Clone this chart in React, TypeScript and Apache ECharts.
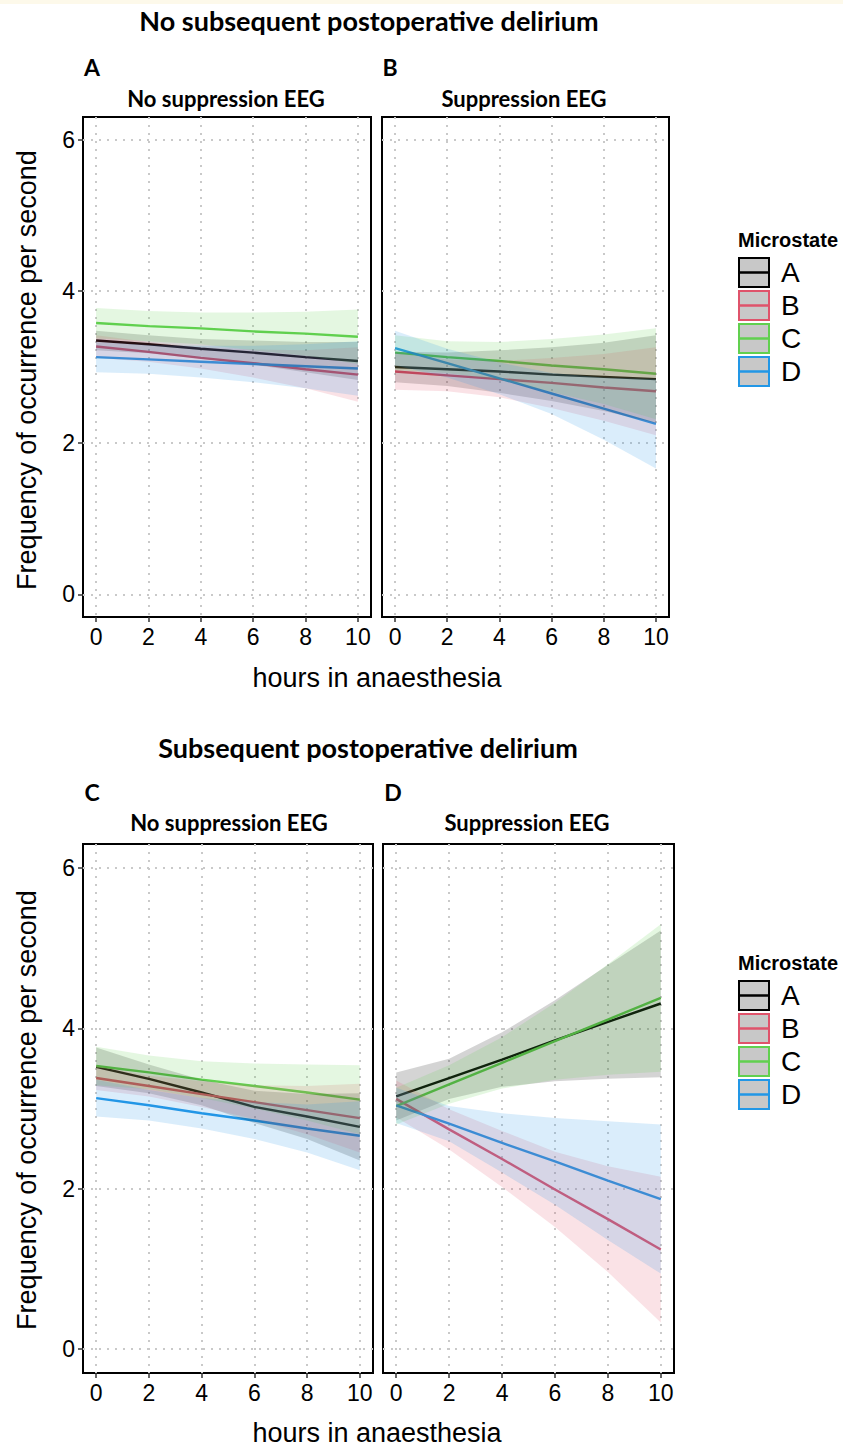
import React, { useEffect, useRef } from "react";
import * as echarts from "echarts";

// ---------- data ----------
const hours = [0, 2, 4, 6, 8, 10];
const xTicks = [0, 2, 4, 6, 8, 10];
const yTicks = [0, 2, 4, 6];
const microstates = ["A", "B", "C", "D"];
const microColors = ["#000000", "#DF536B", "#61D04F", "#2297E6"];

// Panel A: no subsequent delirium, no suppression EEG
const pA_fit_A = [3.35, 3.3, 3.24, 3.19, 3.13, 3.08];
const pA_lo_A = [3.22, 3.18, 3.11, 3.03, 2.93, 2.83];
const pA_hi_A = [3.48, 3.42, 3.37, 3.35, 3.33, 3.33];
const pA_fit_B = [3.27, 3.2, 3.12, 3.05, 2.97, 2.9];
const pA_lo_B = [3.12, 3.07, 2.98, 2.86, 2.72, 2.54];
const pA_hi_B = [3.42, 3.33, 3.26, 3.23, 3.22, 3.26];
const pA_fit_C = [3.58, 3.54, 3.51, 3.47, 3.44, 3.4];
const pA_lo_C = [3.38, 3.34, 3.3, 3.22, 3.15, 3.04];
const pA_hi_C = [3.78, 3.74, 3.72, 3.72, 3.73, 3.76];
const pA_fit_D = [3.13, 3.1, 3.07, 3.04, 3.01, 2.98];
const pA_lo_D = [2.93, 2.91, 2.86, 2.8, 2.72, 2.62];
const pA_hi_D = [3.33, 3.29, 3.28, 3.28, 3.3, 3.34];

// Panel B: no subsequent delirium, suppression EEG
const pB_fit_A = [3.0, 2.97, 2.94, 2.9, 2.87, 2.84];
const pB_lo_A = [2.8, 2.75, 2.66, 2.55, 2.42, 2.26];
const pB_hi_A = [3.2, 3.19, 3.22, 3.26, 3.32, 3.42];
const pB_fit_B = [2.94, 2.89, 2.84, 2.79, 2.73, 2.68];
const pB_lo_B = [2.7, 2.68, 2.6, 2.46, 2.29, 2.1];
const pB_hi_B = [3.18, 3.1, 3.08, 3.12, 3.17, 3.26];
const pB_fit_C = [3.19, 3.13, 3.08, 3.02, 2.97, 2.91];
const pB_lo_C = [2.96, 2.92, 2.83, 2.67, 2.51, 2.31];
const pB_hi_C = [3.42, 3.34, 3.33, 3.37, 3.43, 3.51];
const pB_fit_D = [3.25, 3.05, 2.85, 2.65, 2.45, 2.25];
const pB_lo_D = [3.02, 2.86, 2.64, 2.38, 2.04, 1.66];
const pB_hi_D = [3.48, 3.24, 3.06, 2.92, 2.86, 2.84];

// Panel C: subsequent delirium, no suppression EEG
const pC_fit_A = [3.52, 3.37, 3.2, 3.02, 2.9, 2.77];
const pC_lo_A = [3.28, 3.19, 3.04, 2.82, 2.62, 2.35];
const pC_hi_A = [3.76, 3.55, 3.36, 3.22, 3.18, 3.19];
const pC_fit_B = [3.38, 3.28, 3.18, 3.08, 2.98, 2.88];
const pC_lo_B = [3.23, 3.15, 3.02, 2.87, 2.68, 2.45];
const pC_hi_B = [3.53, 3.41, 3.34, 3.29, 3.28, 3.31];
const pC_fit_C = [3.53, 3.45, 3.36, 3.28, 3.2, 3.11];
const pC_lo_C = [3.29, 3.24, 3.13, 3.0, 2.85, 2.68];
const pC_hi_C = [3.77, 3.66, 3.59, 3.56, 3.55, 3.54];
const pC_fit_D = [3.13, 3.04, 2.94, 2.85, 2.75, 2.66];
const pC_lo_D = [2.9, 2.85, 2.75, 2.62, 2.45, 2.23];
const pC_hi_D = [3.36, 3.23, 3.13, 3.08, 3.05, 3.09];

// Panel D: subsequent delirium, suppression EEG
const pD_fit_A = [3.15, 3.38, 3.61, 3.85, 4.08, 4.31];
const pD_lo_A = [2.85, 3.12, 3.27, 3.34, 3.37, 3.39];
const pD_hi_A = [3.45, 3.62, 3.95, 4.35, 4.79, 5.22];
const pD_fit_B = [3.12, 2.74, 2.37, 1.99, 1.62, 1.24];
const pD_lo_B = [2.89, 2.49, 2.02, 1.52, 0.96, 0.33];
const pD_hi_B = [3.35, 2.99, 2.72, 2.46, 2.28, 2.15];
const pD_fit_C = [3.03, 3.3, 3.57, 3.84, 4.11, 4.38];
const pD_lo_C = [2.8, 3.06, 3.25, 3.36, 3.42, 3.46];
const pD_hi_C = [3.26, 3.54, 3.89, 4.32, 4.8, 5.3];
const pD_fit_D = [3.04, 2.81, 2.57, 2.34, 2.1, 1.87];
const pD_lo_D = [2.82, 2.59, 2.2, 1.8, 1.36, 0.94];
const pD_hi_D = [3.26, 3.03, 2.94, 2.88, 2.84, 2.8];

const panels = [
  { fit: [pA_fit_A, pA_fit_B, pA_fit_C, pA_fit_D], lo: [pA_lo_A, pA_lo_B, pA_lo_C, pA_lo_D], hi: [pA_hi_A, pA_hi_B, pA_hi_C, pA_hi_D] },
  { fit: [pB_fit_A, pB_fit_B, pB_fit_C, pB_fit_D], lo: [pB_lo_A, pB_lo_B, pB_lo_C, pB_lo_D], hi: [pB_hi_A, pB_hi_B, pB_hi_C, pB_hi_D] },
  { fit: [pC_fit_A, pC_fit_B, pC_fit_C, pC_fit_D], lo: [pC_lo_A, pC_lo_B, pC_lo_C, pC_lo_D], hi: [pC_hi_A, pC_hi_B, pC_hi_C, pC_hi_D] },
  { fit: [pD_fit_A, pD_fit_B, pD_fit_C, pD_fit_D], lo: [pD_lo_A, pD_lo_B, pD_lo_C, pD_lo_D], hi: [pD_hi_A, pD_hi_B, pD_hi_C, pD_hi_D] },
];

// ---------- layout ----------
const gridBoxes = [
  { left: 83, top: 117, width: 288, height: 500 },
  { left: 382, top: 117, width: 287, height: 500 },
  { left: 83, top: 844, width: 290, height: 529 },
  { left: 383, top: 844, width: 291, height: 529 },
];

const AXIS_FONT = "'Liberation Sans', Arial, sans-serif";
const TITLE_FONT = "Lato, 'Open Sans', sans-serif";

function buildOption() {
  const splitLine = {
    show: true,
    lineStyle: { color: "#c9c9c9", width: 2, type: [2, 6] },
  };
  const grid = gridBoxes.map((g) => ({
    ...g,
    show: true,
    borderColor: "#000",
    borderWidth: 2,
    backgroundColor: "transparent",
    containLabel: false,
  }));
  const xAxis = gridBoxes.map((_, i) => ({
    gridIndex: i,
    type: "value",
    min: -0.5,
    max: 10.5,
    axisLine: { show: false, onZero: false },
    axisTick: { show: true, customValues: xTicks, length: 5, lineStyle: { color: "#333", width: 1.5 } },
    axisLabel: { show: true, customValues: xTicks, fontSize: 23, color: "#000", fontFamily: AXIS_FONT, margin: 8 },
    splitLine,
  }));
  const yAxis = gridBoxes.map((_, i) => ({
    gridIndex: i,
    type: "value",
    min: -0.3,
    max: 6.3,
    axisLine: { show: false, onZero: false },
    axisTick: { show: i % 2 === 0, customValues: yTicks, length: 5, lineStyle: { color: "#333", width: 1.5 } },
    axisLabel: { show: i % 2 === 0, customValues: yTicks, fontSize: 23, color: "#000", fontFamily: AXIS_FONT, margin: 8 },
    splitLine,
  }));

  const series: any[] = [];
  panels.forEach((p, gi) => {
    microstates.forEach((ms, k) => {
      const color = microColors[k];
      const lo = p.lo[k];
      const hi = p.hi[k];
      // confidence ribbon as one polygon, positioned through the axes' scales
      series.push({
        type: "custom",
        xAxisIndex: gi,
        yAxisIndex: gi,
        data: hours.map((h, i) => [h, lo[i], hi[i]]),
        encode: { x: 0, y: [1, 2] },
        silent: true,
        z: 3,
        renderItem: (params: any, api: any) => {
          if (params.dataIndex !== 0) return null;
          const upper = hours.map((h, i) => api.coord([h, hi[i]]));
          const lower = hours.map((h, i) => api.coord([h, lo[i]])).reverse();
          return {
            type: "polygon",
            shape: { points: upper.concat(lower) },
            style: { fill: color, opacity: 0.17 },
          };
        },
      });
      series.push({
        type: "line",
        name: ms,
        xAxisIndex: gi,
        yAxisIndex: gi,
        data: hours.map((h, i) => [h, p.fit[k][i]]),
        symbol: "none",
        lineStyle: { color, width: 2.4 },
        silent: true,
        z: 2,
      });
    });
  });

  const graphic: any[] = [];
  const txt = (text: string, x: number, y: number, font: string, align = "center", rotation = 0) => ({
    type: "text",
    x,
    y,
    rotation,
    style: {
      text,
      font,
      fill: "#000",
      align,
      verticalAlign: "middle",
      textAlign: align,
      textVerticalAlign: "middle",
    },
  });
  graphic.push({ type: "rect", shape: { x: 0, y: 0, width: 843, height: 4 }, style: { fill: "#fdf9ea" } });
  graphic.push(txt("No subsequent postoperative delirium", 369, 20, `bold 27px ${TITLE_FONT}`));
  graphic.push(txt("Subsequent postoperative delirium", 368, 747, `bold 27px ${TITLE_FONT}`));
  graphic.push(txt("A", 92, 67, `bold 23px ${TITLE_FONT}`));
  graphic.push(txt("B", 390, 67, `bold 23px ${TITLE_FONT}`));
  graphic.push(txt("C", 92, 792, `bold 23px ${TITLE_FONT}`));
  graphic.push(txt("D", 393, 792, `bold 23px ${TITLE_FONT}`));
  graphic.push(txt("No suppression EEG", 226, 98, `bold 22px ${TITLE_FONT}`));
  graphic.push(txt("Suppression EEG", 524, 98, `bold 22px ${TITLE_FONT}`));
  graphic.push(txt("No suppression EEG", 229, 822, `bold 22px ${TITLE_FONT}`));
  graphic.push(txt("Suppression EEG", 527, 822, `bold 22px ${TITLE_FONT}`));
  graphic.push(txt("Frequency of occurrence per second", 27, 370, `27px ${AXIS_FONT}`, "center", Math.PI / 2));
  graphic.push(txt("Frequency of occurrence per second", 27, 1110, `27px ${AXIS_FONT}`, "center", Math.PI / 2));
  graphic.push(txt("hours in anaesthesia", 377, 678, `27px ${AXIS_FONT}`));
  graphic.push(txt("hours in anaesthesia", 377, 1433, `27px ${AXIS_FONT}`));

  [240, 963].forEach((ly) => {
    graphic.push(txt("Microstate", 738, ly, `bold 20px ${AXIS_FONT}`, "left"));
    microstates.forEach((ms, k) => {
      const top = ly + 18 + k * 33;
      const mid = top + 14.5;
      graphic.push({
        type: "rect",
        shape: { x: 739, y: top, width: 30, height: 29 },
        style: { fill: "#c8c8c8", stroke: microColors[k], lineWidth: 2 },
      });
      graphic.push({
        type: "line",
        shape: { x1: 740, y1: mid, x2: 768, y2: mid },
        style: { stroke: microColors[k], lineWidth: 2.5 },
      });
      graphic.push(txt(ms, 781, mid, `28px ${AXIS_FONT}`, "left"));
    });
  });

  return {
    animation: false,
    backgroundColor: "#ffffff",
    grid,
    xAxis,
    yAxis,
    series,
    graphic,
  };
}

export default function App() {
  const ref = useRef<HTMLDivElement>(null);
  useEffect(() => {
    document.body.style.margin = "0";
    const chart = echarts.init(ref.current!, null, { renderer: "svg" });
    chart.setOption(buildOption() as any);
    return () => chart.dispose();
  }, []);
  return <div ref={ref} style={{ width: 843, height: 1449, background: "#fff" }} />;
}
